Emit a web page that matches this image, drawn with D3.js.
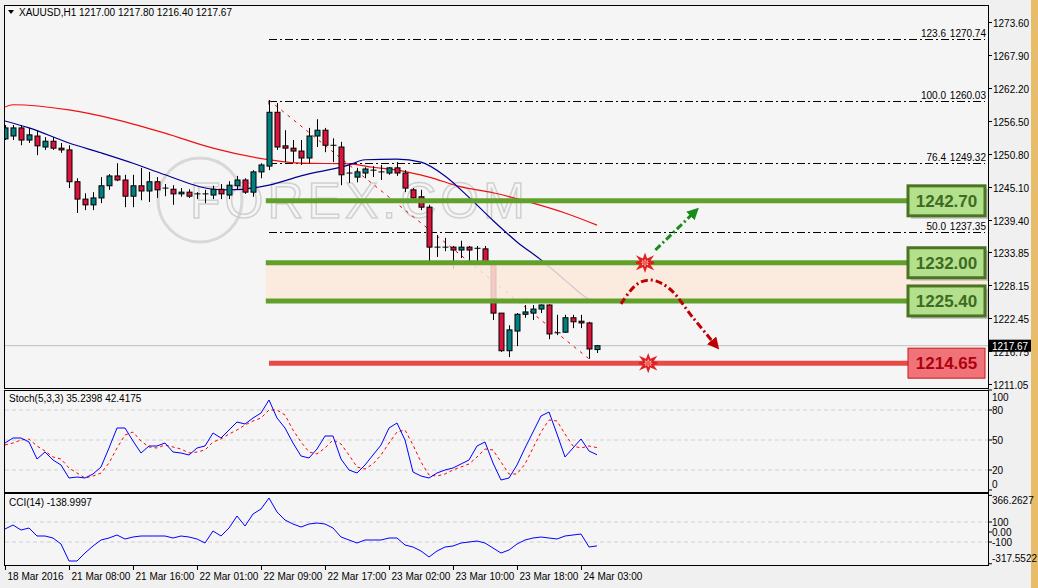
<!DOCTYPE html>
<html><head><meta charset="utf-8">
<script src="https://cdn.jsdelivr.net/npm/d3@7"></script>
<style>body{margin:0;background:#f4f4f4;}svg{display:block;font-family:"Liberation Sans",Arial,sans-serif;}</style>
</head><body><svg id="c" width="1038" height="588"></svg>
<script>
// OHLC per hourly bar [open, high, low, close]
const candles = [
[1253.4,1255.8,1253.2,1255.3],[1253.9,1255.8,1253.2,1255.3],[1255.3,1255.8,1252.3,1253.2],[1253.2,1255.3,1252.7,1254.1],
[1253.9,1254.8,1250.6,1252.2],[1252.0,1253.7,1251.5,1253.0],[1253.0,1253.7,1251.5,1251.8],[1251.8,1252.7,1251.0,1251.5],
[1251.5,1252.3,1244.9,1246.0],[1246.0,1246.6,1240.6,1243.0],[1243.0,1244.0,1241.1,1242.0],[1242.0,1244.2,1241.1,1243.2],
[1243.2,1246.8,1242.3,1245.3],[1245.3,1247.3,1244.6,1247.0],[1247.0,1249.2,1246.1,1246.3],[1246.3,1247.2,1241.6,1243.5],
[1243.5,1247.2,1241.6,1245.3],[1245.3,1248.4,1242.8,1244.4],[1244.4,1247.7,1242.5,1246.0],[1246.0,1246.8,1243.2,1244.6],
[1244.9,1245.6,1243.5,1244.9],[1244.7,1245.4,1242.0,1243.9],[1243.9,1244.9,1243.4,1244.2],[1244.2,1244.7,1243.2,1243.5],
[1243.9,1244.2,1243.0,1243.9],[1243.9,1244.6,1242.3,1243.9],[1243.7,1245.3,1243.0,1244.7],[1244.7,1245.6,1243.0,1243.9],
[1243.7,1246.1,1243.0,1245.4],[1245.3,1247.0,1244.6,1246.3],[1246.3,1246.6,1243.9,1244.2],[1244.2,1248.0,1243.4,1247.7],
[1247.7,1249.2,1246.6,1248.9],[1248.7,1260.1,1248.0,1258.0],[1258.0,1259.6,1251.5,1252.0],[1252.2,1254.9,1249.4,1251.8],
[1251.8,1253.2,1249.4,1251.3],[1251.3,1253.2,1248.9,1250.1],[1250.1,1255.3,1249.2,1253.9],[1253.9,1256.8,1252.0,1254.9],
[1254.9,1255.3,1251.1,1252.3],[1252.3,1253.5,1249.4,1252.3],[1252.0,1252.9,1245.4,1247.2],[1247.5,1248.9,1245.8,1247.5],
[1246.8,1248.4,1245.9,1247.7],[1247.5,1248.5,1246.6,1248.2],[1248.0,1248.7,1246.8,1248.0],[1247.7,1248.9,1246.3,1247.7],
[1247.5,1248.5,1247.2,1248.4],[1248.4,1249.4,1247.0,1247.5],[1247.5,1248.0,1244.2,1244.9],[1244.6,1244.9,1242.8,1243.2],
[1243.4,1244.6,1241.1,1241.6],[1241.6,1242.0,1232.1,1234.7],[1234.7,1236.8,1233.0,1234.7],[1234.7,1236.3,1234.0,1234.7],
[1234.7,1234.9,1230.9,1234.2],[1234.2,1235.8,1232.8,1234.7],[1234.7,1234.9,1232.3,1234.2],[1234.5,1234.9,1232.3,1234.5],
[1234.4,1234.9,1231.6,1232.1],[1232.1,1232.1,1222.1,1223.3],[1223.3,1223.3,1216.6,1216.8],[1216.8,1221.2,1215.7,1220.4],
[1220.2,1223.3,1217.6,1223.1],[1223.1,1224.7,1222.5,1223.5],[1223.3,1224.7,1222.1,1224.0],[1224.0,1224.8,1223.3,1224.7],
[1224.7,1224.8,1218.8,1219.7],[1219.9,1223.0,1219.5,1219.9],[1220.0,1223.0,1219.9,1222.5],[1222.5,1223.0,1220.7,1221.8],
[1221.9,1223.0,1220.7,1221.6],[1221.6,1221.8,1215.4,1217.1],[1217.00,1217.80,1216.40,1217.67]];
// moving averages sampled [bar, value]
const maSlow = [[0,1258.9],[1,1259.3],[8,1258.4],[14,1256.7],[20,1254.4],[26,1251.8],[33,1249.8],[37,1249.2],[43,1249.1],[46,1248.5],[49,1248.0],[53,1246.8],[57,1245.1],[61,1244.1],[66,1242.3],[70,1240.6],[74,1238.5]];
const maFast = [[0,1256.5],[3,1255.3],[8,1252.7],[12,1251.0],[16,1249.2],[20,1247.2],[26,1244.7],[28,1244.6],[33,1245.4],[37,1247.0],[43,1248.9],[45,1249.8],[49,1249.9],[52,1249.4],[55,1247.0],[58,1243.3],[61,1239.3],[64,1235.6],[67,1232.5],[70,1229.0],[73,1225.7],[74,1225.2]];
const stochK = [47,52,52,48,31,38,30,25,12,13,12,16,23,42,62,62,49,37,44,44,47,38,37,35,42,44,57,52,60,68,66,72,77,90,72,62,47,34,32,41,54,54,31,20,17,25,35,45,62,67,50,18,14,12,17,20,22,26,30,44,48,27,10,12,25,42,58,74,78,56,33,42,51,39,35.24];
const stochD = [45,47,50,51,44,39,33,31,22,17,12,14,17,27,42,55,58,49,43,42,45,43,41,37,38,40,48,51,56,60,65,69,72,80,80,75,60,48,38,36,42,50,46,35,23,21,26,35,47,58,60,45,28,15,14,16,20,23,26,33,41,40,28,16,16,26,42,58,70,69,56,44,42,44,42.42];
const cci = [30,70,20,40,-40,-40,-60,-120,-290,-290,-210,-140,-80,-60,-30,-70,-50,-40,-40,-40,-40,-60,-40,-50,-70,-110,10,-40,40,160,60,180,230,340,200,120,80,50,80,90,80,40,-50,-80,-110,-80,-80,-80,-60,-60,-130,-150,-190,-250,-190,-150,-140,-110,-100,-90,-110,-160,-210,-180,-120,-80,-60,-50,-60,-70,-40,-30,-20,-150,-139];
const priceTicks = ["1273.60","1267.90","1262.20","1256.50","1250.80","1245.10","1239.40","1233.85","1228.15","1222.45","1216.75","1211.05"];
const timeTicks = [[0,"18 Mar 2016"],[8,"21 Mar 08:00"],[16,"21 Mar 16:00"],[24,"22 Mar 01:00"],[32,"22 Mar 09:00"],[40,"22 Mar 17:00"],[48,"23 Mar 02:00"],[56,"23 Mar 10:00"],[64,"23 Mar 18:00"],[72,"24 Mar 03:00"]];
const fibs = [["123.6",1270.74],["100.0",1260.03],["76.4",1249.32],["50.0",1237.35]];
const levels = [["1242.70",1242.70,"g"],["1232.00",1232.00,"g"],["1225.40",1225.40,"g"],["1214.65",1214.65,"r"]];
const zone = [1225.40,1232.00];
const lastPrice = 1217.67;
const stochTicks = [100,80,50,20,0];
const cciTicks = [["366.2627",366.26],["100",100],["0.00",0],["-100",-100],["-317.5522",-317.55]];

const svg = d3.select("#c");
const L=4,R=988;
const x = d3.scaleLinear().domain([0,74]).range([5,597]);
const y = d3.scaleLinear().domain([1211.05,1273.60]).range([384,22]);
const ys = d3.scaleLinear().domain([0,100]).range([490,390]);
const yc = d3.scaleLinear().domain([-100,100]).range([542,522]);

svg.append("rect").attr("width",1038).attr("height",588).attr("fill","#f0f0f0");
svg.append("rect").attr("x",1031).attr("width",7).attr("height",588).attr("fill","#e8bd6a");
[[5,388],[390,492],[493,565]].forEach(([a,b])=>svg.append("rect").attr("x",L+.5).attr("y",a+.5).attr("width",R-L).attr("height",b-a).attr("fill","#f5f5f5").attr("stroke","#000"));

const main = svg.append("g");
svg.append("clipPath").attr("id","cm").append("rect").attr("x",L+1).attr("y",6).attr("width",R-L-1).attr("height",382);
main.attr("clip-path","url(#cm)");

main.append("circle").attr("cx",200).attr("cy",200).attr("r",42).attr("fill","none").attr("stroke","#d8d8d8").attr("stroke-width",3);
main.append("text").attr("x",190).attr("y",218).text("FOREX.COM").attr("font-size",50).attr("fill","none").attr("stroke","#c8c8c8").attr("stroke-width",1.5).attr("letter-spacing",4).attr("opacity",.8);

main.append("line").attr("x1",L).attr("x2",R).attr("y1",y(lastPrice)).attr("y2",y(lastPrice)).attr("stroke","#c0c0c0");

fibs.forEach(([lv,p])=>{
  const yy=Math.round(y(p))+.5;
  main.append("line").attr("x1",x(33)).attr("x2",985).attr("y1",yy).attr("y2",yy).attr("stroke","#000").attr("stroke-dasharray","8,3,2,3");
  main.append("text").attr("x",946).attr("y",yy-3).attr("text-anchor","end").attr("font-size",10).text(lv);
  main.append("text").attr("x",986).attr("y",yy-3).attr("text-anchor","end").attr("font-size",10).text(p.toFixed(2));
});
main.append("line").attr("x1",x(33)).attr("x2",x(33)).attr("y1",y(1260.03)).attr("y2",y(1260.03)+4).attr("stroke","#000");

const line = d3.line().x(d=>x(d[0])).y(d=>y(d[1])).curve(d3.curveMonotoneX);
main.append("path").attr("d",line(maSlow)).attr("fill","none").attr("stroke","#ee1111").attr("stroke-width",1.2);
main.append("path").attr("d",line(maFast)).attr("fill","none").attr("stroke","#000090").attr("stroke-width",1.2);

main.append("line").attr("x1",x(33)).attr("y1",y(candles[33][1])).attr("x2",x(73)).attr("y2",y(candles[73][2])).attr("stroke","#e00").attr("stroke-dasharray","3,5");

const cg = main.append("g");
candles.forEach((c,i)=>{
  const [o,h,l,cl]=c, cx=Math.round(x(i))+.5;
  cg.append("line").attr("x1",cx).attr("x2",cx).attr("y1",y(h)).attr("y2",y(l)).attr("stroke","#000");
  if(o===cl){cg.append("line").attr("x1",cx-3).attr("x2",cx+3).attr("y1",y(o)).attr("y2",y(o)).attr("stroke","#000");return;}
  const t=y(Math.max(o,cl)), b=y(Math.min(o,cl));
  cg.append("rect").attr("x",cx-2.5).attr("y",t).attr("width",5).attr("height",Math.max(1,b-t)).attr("fill",cl>o?"#008080":"#dc143c").attr("stroke","#000").attr("stroke-width",1);
});

main.append("rect").attr("x",x(32.6)).attr("y",y(zone[1])).attr("width",R-x(32.6)).attr("height",y(zone[0])-y(zone[1])).attr("fill","#fbe9da").attr("opacity",.85);

levels.forEach(([t,p,k])=>{
  main.append("line").attr("x1",x(k==="g"?32.6:33)).attr("x2",908).attr("y1",y(p)).attr("y2",y(p)).attr("stroke",k==="g"?"#62a02c":"#e84a45").attr("stroke-width",5);
});

const defs=svg.append("defs");
[["ag","#1a8a1a"],["ar","#c00000"]].forEach(([id,col])=>defs.append("marker").attr("id",id).attr("viewBox","0 0 10 10").attr("refX",5).attr("refY",5).attr("markerWidth",4).attr("markerHeight",4).attr("orient","auto").append("path").attr("d","M0,0L10,5L0,10z").attr("fill",col));
main.append("line").attr("x1",x(81.3)).attr("y1",y(1234.2)).attr("x2",x(86.2)).attr("y2",y(1240.8)).attr("stroke","#1a8a1a").attr("stroke-width",3).attr("stroke-dasharray","7,3,2,3").attr("marker-end","url(#ag)");
main.append("path").attr("d",d3.line().x(d=>x(d[0])).y(d=>y(d[1])).curve(d3.curveCatmullRom)([[77,1224.9],[79,1228.3],[80.8,1229.0],[83,1227.6],[86,1222.5],[88.8,1217.8]])).attr("fill","none").attr("stroke","#c00000").attr("stroke-width",3).attr("stroke-dasharray","7,3,2,3").attr("marker-end","url(#ar)");
function star(cx,cy){const pts=[];for(let k=0;k<16;k++){const r=k%2?4:9,a=k*Math.PI/8;pts.push([cx+r*Math.cos(a),cy+r*0.8*Math.sin(a)]);}
  main.append("polygon").attr("points",pts.map(p=>p.join(",")).join(" ")).attr("fill","#fff").attr("stroke","#e02020").attr("stroke-width",2);
  main.append("circle").attr("cx",cx).attr("cy",cy).attr("r",2.5).attr("fill","#f06060");}
star(x(80),y(1232.0)); star(x(80.4),y(1214.65));

levels.forEach(([t,p,k])=>{
  const g=k==="g", bx=908, bw=77, bh=30, by=y(p)-bh/2;
  if(g) svg.append("rect").attr("x",bx+3).attr("y",by+3).attr("width",bw).attr("height",bh).attr("fill","#999").attr("opacity",.5);
  svg.append("rect").attr("x",bx).attr("y",by).attr("width",bw).attr("height",bh).attr("fill",g?"#b3e08c":"#ef7378").attr("stroke",g?"#4a7322":"#c81818").attr("stroke-width",g?3:1);
  svg.append("text").attr("x",bx+bw/2).attr("y",by+bh/2+6).attr("text-anchor","middle").attr("font-size",17).attr("font-weight","bold").attr("fill",g?"#3e6a22":"#b00010").text(t);
});

priceTicks.forEach(t=>{const yy=Math.round(y(+t))+.5;
  svg.append("line").attr("x1",R).attr("x2",R+4).attr("y1",yy).attr("y2",yy).attr("stroke","#000");
  svg.append("text").attr("x",R+5).attr("y",yy+4).attr("font-size",10).text(t);});
svg.append("rect").attr("x",R+1).attr("y",y(lastPrice)-6).attr("width",42).attr("height",12).attr("fill","#000");
svg.append("text").attr("x",R+4).attr("y",y(lastPrice)+4).attr("font-size",10).attr("fill","#fff").text(lastPrice.toFixed(2));

svg.append("path").attr("d","M8,10L14,10L11,14z").attr("fill","#000");
svg.append("text").attr("x",19).attr("y",16).attr("font-size",10).text("XAUUSD,H1  1217.00 1217.80 1216.40 1217.67");

[80,50,20].forEach(v=>svg.append("line").attr("x1",L+1).attr("x2",R).attr("y1",ys(v)).attr("y2",ys(v)).attr("stroke","#d0d0d0").attr("stroke-dasharray","4,3"));
const sl=d3.line().x((d,i)=>x(i)).y(d=>ys(d));
svg.append("path").attr("d",sl(stochD)).attr("fill","none").attr("stroke","#ff0000").attr("stroke-dasharray","3,3");
svg.append("path").attr("d",sl(stochK)).attr("fill","none").attr("stroke","#0000ff");
svg.append("text").attr("x",9).attr("y",402).attr("font-size",10).text("Stoch(5,3,3) 35.2398 42.4175");
stochTicks.forEach(v=>{svg.append("line").attr("x1",R).attr("x2",R+4).attr("y1",ys(v)).attr("y2",ys(v)).attr("stroke","#000");
  svg.append("text").attr("x",R+4).attr("y",Math.min(Math.max(ys(v)+4,401),488)).attr("font-size",10).text(v);});

[100,-100].forEach(v=>svg.append("line").attr("x1",L+1).attr("x2",R).attr("y1",yc(v)).attr("y2",yc(v)).attr("stroke","#d0d0d0").attr("stroke-dasharray","4,3"));
svg.append("path").attr("d",d3.line().x((d,i)=>x(i)).y(d=>yc(d))(cci)).attr("fill","none").attr("stroke","#0000ff");
svg.append("text").attr("x",9).attr("y",506).attr("font-size",10).text("CCI(14) -138.9997");
cciTicks.forEach(([t,v])=>{svg.append("line").attr("x1",R).attr("x2",R+4).attr("y1",yc(v)).attr("y2",yc(v)).attr("stroke","#000");
  svg.append("text").attr("x",R+4).attr("y",Math.min(Math.max(yc(v)+4,504),562)).attr("font-size",10).text(t);});

timeTicks.forEach(([i,t])=>{const xx=Math.round(x(i))+.5;
  svg.append("line").attr("x1",xx).attr("x2",xx).attr("y1",565).attr("y2",570).attr("stroke","#000");
  svg.append("text").attr("x",xx+2).attr("y",580).attr("font-size",10).text(t);});
</script></body></html>
